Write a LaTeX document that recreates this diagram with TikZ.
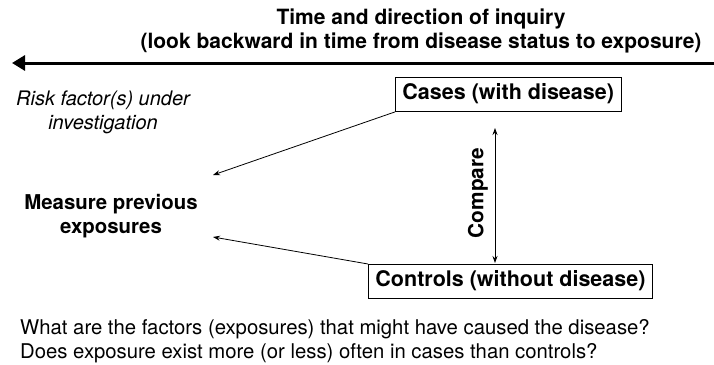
\documentclass[tikz,border=0pt]{standalone}
\usepackage{fontspec}
\setmainfont{TeX Gyre Heros}
\usetikzlibrary{arrows.meta}
\begin{document}
\begin{tikzpicture}[x=1pt,y=-1pt,
  boxnode/.style={draw,line width=0.9pt,inner xsep=7pt,inner ysep=7pt,text height=15.5pt,text depth=4.5pt,font=\fontsize{21.5}{24}\selectfont\bfseries},
  thin/.style={line width=0.8pt,-{Stealth[length=7pt,width=5pt]}},
  plain/.style={inner sep=0pt,anchor=base},
  boldtext/.style={plain,font=\fontsize{21}{24}\selectfont\bfseries},
  normtext/.style={plain,font=\fontsize{20.3}{24}\selectfont},
  ittext/.style={plain,font=\fontsize{20}{24}\selectfont\itshape}]
\useasboundingbox (0,0) rectangle (714,364);
\node[boldtext] (title1) at (421,24) {Time and direction of inquiry};
\node[boldtext] (title2) at (421,48) {(look backward in time from disease status to exposure)};
\coordinate (tr) at (714,63);
\coordinate (tl) at (12,63);
\draw[line width=3pt,-{Triangle[length=13pt,width=15pt]}] (tr) -- (tl);
\node[ittext] (risk1) at (103,105) {Risk factor(s) under};
\node[ittext] (risk2) at (103,129) {investigation};
\node[boldtext,font=\fontsize{20.4}{24}\selectfont\bfseries] (measure1) at (111,209) {Measure previous};
\node[boldtext,font=\fontsize{20.4}{24}\selectfont\bfseries] (measure2) at (111,233) {exposures};
\node[boxnode,anchor=north west] (cases) at (395,77) {Cases (with disease)};
\node[boxnode,anchor=north west] (controls) at (368,264) {Controls (without disease)};
\coordinate (m1) at (213,175);
\coordinate (m2) at (213,237);
\draw[thin] (cases.south west) -- (m1);
\draw[thin] (controls.north west) -- (m2);
\coordinate (cu) at (495,128);
\coordinate (cd) at (495,263);
\draw[line width=0.8pt,{Stealth[length=7pt,width=5pt]}-{Stealth[length=7pt,width=5pt]}] (cd) -- (cu);
\node[inner sep=0pt,rotate=90,font=\fontsize{20.8}{24}\selectfont\bfseries] (compare) at (478,193) {Compare};
\node[normtext,anchor=base west] (q1) at (20,334) {What are the factors (exposures) that might have caused the disease?};
\node[normtext,anchor=base west] (q2) at (20,358) {Does exposure exist more (or less) often in cases than controls?};
\end{tikzpicture}
\end{document}
